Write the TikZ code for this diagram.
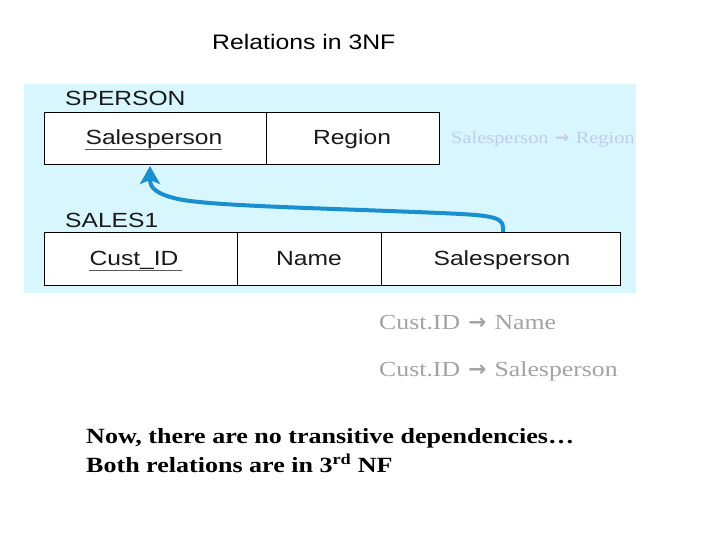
\documentclass[tikz,border=0pt]{standalone}
\usepackage{fontspec}
\setmainfont{Liberation Serif}[FakeStretch=1.2]
\newfontfamily\tabfont{Liberation Sans}[FakeStretch=1.2]
\newfontfamily\titlefont{Liberation Sans}[FakeStretch=1.18]
\newfontfamily\arrowfont{DejaVu Sans Bold}
\newcommand{\fdarrow}{\hspace{0.08em}{\arrowfont\fontsize{1em}{1em}\selectfont →}\hspace{0.08em}}
\usetikzlibrary{arrows.meta}
\definecolor{bgblue}{HTML}{D8F6FD}
\definecolor{lav}{HTML}{C3CBEE}
\definecolor{fdgray}{HTML}{A3A3A3}
\definecolor{arrowblue}{HTML}{1A8FD0}
\definecolor{celltext}{HTML}{1A1A1A}
\tikzset{
  cell/.style={draw=black, line width=1.3pt, fill=white, anchor=north west, inner sep=0pt},
  celltxt/.style={anchor=base, inner sep=0pt, text=celltext, font=\tabfont\fontsize{20.5}{24}\selectfont},
  relname/.style={anchor=base west, inner sep=0pt, text=celltext, font=\tabfont\fontsize{20.5}{24}\selectfont},
  fdtxt/.style={anchor=base west, inner sep=0pt, text=fdgray, font=\fontsize{21.5}{26}\selectfont},
  bodytxt/.style={anchor=base west, inner sep=0pt, font=\bfseries\fontsize{21.7}{25}\selectfont},
  keyline/.style={draw=black!65, line width=1pt},
  depend/.style={draw=arrowblue, line width=4pt, -{Stealth[length=18pt,width=20pt,inset=4pt]}}
}
\begin{document}
\begin{tikzpicture}[x=1pt,y=-1pt]
\useasboundingbox (0,0) rectangle (720,540);
\fill[white] (0,0) rectangle (720,540);
% title
\node[anchor=base west, inner sep=0pt, font=\titlefont\fontsize{21}{25}\selectfont] (title) at (212,50) {Relations in 3NF};
% background
\fill[bgblue] (24,84) rectangle (636,293);
% SPERSON
\node[relname] (spname) at (65,106) {SPERSON};
\node[cell, minimum width=222pt, minimum height=52pt] (sp1) at (44,112) {};
\node[cell, minimum width=173pt, minimum height=52pt] (sp2) at (266,112) {};
\node[celltxt] (sp1t) at (154,145) {Salesperson};
\node[celltxt] (sp2t) at (352,145) {Region};
\draw[keyline] (sp1t.base west) ++(0,5) -- ++(137,0);
% SALES1
\node[relname] (s1name) at (65,227) {SALES1};
\node[cell, minimum width=193pt, minimum height=53pt] (s1) at (44,232) {};
\node[cell, minimum width=144pt, minimum height=53pt] (s2) at (237,232) {};
\node[cell, minimum width=239pt, minimum height=53pt] (s3) at (381,232) {};
\node[celltxt] (s1t) at (134,265) {Cust\_ID};
\node[celltxt] (s2t) at (309,265) {Name};
\node[celltxt] (s3t) at (502,265) {Salesperson};
\draw[keyline] (s1t.base west) ++(0,5) -- ++(93,0);
% dependency arrow
\coordinate (src) at (503,232);
\coordinate (dst) at (150,166);
\draw[depend] (src) -- (503,227) .. controls (503,216) and (485,215) .. (440,213)
  .. controls (320,208) and (210,206) .. (178,199)
  .. controls (156,194) and (150,188) .. (dst);
% FD texts
\node[anchor=base west, inner sep=0pt, text=lav, font=\fontsize{17}{20}\selectfont] (fd0) at (451,144) {Salesperson \fdarrow{} Region};
\node[fdtxt] (fd1) at (379,329) {Cust.ID \fdarrow{} Name};
\node[fdtxt] (fd2) at (379,376) {Cust.ID \fdarrow{} Salesperson};
% bottom text
\node[bodytxt] (b1) at (86,443) {Now, there are no transitive dependencies…};
\node[bodytxt] (b2) at (86,472) {Both relations are in 3\textsuperscript{rd} NF};
\end{tikzpicture}
\end{document}
